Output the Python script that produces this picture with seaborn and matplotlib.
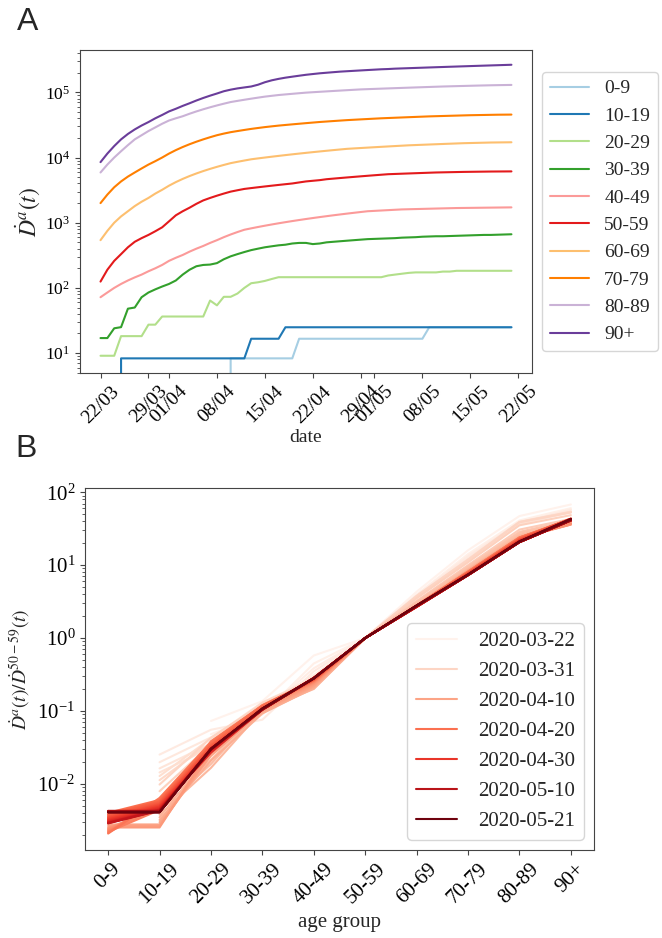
import matplotlib
matplotlib.use("Agg")
import matplotlib.pyplot as plt
import matplotlib.dates as mdates
from matplotlib.lines import Line2D
import numpy as np
import pandas as pd
import seaborn as sns

# daily estimates, 22/03 .. 21/05
date_start, date_end = "2020-03-22", "2020-05-21"
age_groups = ["0-9", "10-19", "20-29", "30-39", "40-49",
              "50-59", "60-69", "70-79", "80-89", "90+"]

d_0_9 = [0, 0, 0, 0, 0, 0, 0, 0, 0, 0,
         0, 0, 0, 0, 0, 0, 0, 0, 0, 8.3,
         8.3, 8.3, 8.3, 8.3, 8.3, 8.3, 8.3, 8.3, 8.3, 16.6,
         16.6, 16.6, 16.6, 16.6, 16.6, 16.6, 16.6, 16.6, 16.6, 16.6,
         16.6, 16.6, 16.6, 16.6, 16.6, 16.6, 16.6, 16.6, 24.9, 24.9,
         24.9, 24.9, 24.9, 24.9, 24.9, 24.9, 24.9, 24.9, 24.9, 24.9,
         24.9]
d_10_19 = [0, 0, 0, 8.3, 8.3, 8.3, 8.3, 8.3, 8.3, 8.3,
           8.3, 8.3, 8.3, 8.3, 8.3, 8.3, 8.3, 8.3, 8.3, 8.3,
           8.3, 8.3, 16.6, 16.6, 16.6, 16.6, 16.6, 24.9, 24.9, 24.9,
           24.9, 24.9, 24.9, 24.9, 24.9, 24.9, 24.9, 24.9, 24.9, 24.9,
           24.9, 24.9, 24.9, 24.9, 24.9, 24.9, 24.9, 24.9, 24.9, 24.9,
           24.9, 24.9, 24.9, 24.9, 24.9, 24.9, 24.9, 24.9, 24.9, 24.9,
           24.9]
d_20_29 = [9.1, 9.1, 9.1, 18.2, 18.2, 18.2, 18.2, 27.3, 27.3, 36.4,
           36.4, 36.4, 36.4, 36.4, 36.4, 36.4, 64, 54, 73, 73,
           82, 100, 118, 122, 128, 137, 146, 146, 146, 146,
           146, 146, 146, 146, 146, 146, 146, 146, 146, 146,
           146, 146, 155, 160, 165, 170, 173, 173, 173, 173,
           178, 178, 183, 183, 183, 183, 183, 183, 183, 183,
           183]
d_30_39 = [17, 17, 24, 25, 48, 50, 72, 85, 95, 105,
           115, 130, 160, 190, 215, 225, 228, 240, 275, 305,
           330, 355, 380, 400, 420, 435, 450, 460, 480, 490,
           490, 470, 480, 500, 510, 520, 530, 540, 550, 560,
           565, 570, 575, 580, 590, 595, 600, 610, 615, 620,
           620, 625, 630, 635, 640, 645, 650, 650, 655, 660,
           665]
d_40_49 = [72, 85, 100, 115, 130, 145, 160, 180, 200, 225,
           260, 290, 320, 360, 400, 440, 490, 540, 600, 660,
           720, 780, 820, 860, 900, 940, 980, 1020, 1060, 1100,
           1140, 1180, 1220, 1260, 1300, 1340, 1380, 1420, 1460, 1500,
           1520, 1540, 1560, 1580, 1600, 1610, 1620, 1630, 1640, 1650,
           1660, 1670, 1680, 1685, 1690, 1695, 1700, 1705, 1710, 1715,
           1720]
d_50_59 = [125, 190, 260, 330, 420, 510, 580, 650, 740, 850,
           1050, 1300, 1500, 1700, 1950, 2200, 2400, 2600, 2800, 3000,
           3150, 3300, 3400, 3500, 3600, 3700, 3800, 3900, 4000, 4150,
           4300, 4400, 4500, 4650, 4750, 4850, 4950, 5050, 5150, 5250,
           5350, 5450, 5550, 5600, 5650, 5700, 5750, 5800, 5850, 5900,
           5930, 5960, 5990, 6020, 6040, 6060, 6080, 6100, 6110, 6120,
           6130]
d_60_69 = [540, 750, 1000, 1250, 1500, 1800, 2100, 2400, 2800, 3200,
           3700, 4200, 4700, 5200, 5700, 6200, 6700, 7200, 7700, 8200,
           8600, 9000, 9400, 9700, 10000, 10300, 10600, 10900, 11200, 11500,
           11800, 12100, 12400, 12700, 13000, 13300, 13600, 13800, 14000, 14200,
           14400, 14600, 14800, 15000, 15200, 15400, 15550, 15700, 15850, 16000,
           16150, 16300, 16450, 16600, 16700, 16800, 16900, 17000, 17050, 17100,
           17150]
d_70_79 = [2000, 2700, 3500, 4300, 5100, 5900, 6800, 7800, 8800, 10000,
           11500, 13000, 14500, 16000, 17500, 19000, 20500, 22000, 23300, 24500,
           25500, 26500, 27500, 28400, 29300, 30100, 30900, 31600, 32300, 33000,
           33700, 34400, 35100, 35700, 36300, 36900, 37500, 38000, 38500, 39000,
           39500, 40000, 40400, 40800, 41200, 41600, 42000, 42400, 42800, 43100,
           43400, 43700, 44000, 44300, 44600, 44800, 45000, 45200, 45400, 45500,
           45600]
d_80_89 = [5900, 7800, 10000, 12500, 15500, 19000, 22000, 25500, 29000, 33000,
           37000, 40000, 43000, 47000, 51000, 55000, 59000, 63000, 67000, 71000,
           74000, 77000, 80000, 83000, 86000, 88500, 91000, 93000, 95000, 97000,
           99000, 100500, 102000, 103500, 105000, 106500, 108000, 109500, 111000, 112000,
           113000, 114000, 115000, 116000, 117000, 118000, 119000, 120000, 121000, 122000,
           123000, 123800, 124600, 125400, 126200, 127000, 127700, 128400, 129000, 129500,
           130000]
d_90 = [8500, 11500, 15000, 19000, 23000, 27000, 31000, 35000, 40000, 45000,
        51000, 56000, 62000, 68000, 75000, 82000, 89000, 96000, 104000, 110000,
        115000, 119000, 123000, 131000, 143000, 153000, 161000, 168000, 174000, 180000,
        186000, 191000, 196000, 200000, 204000, 208000, 211000, 214000, 217000, 220000,
        223000, 226000, 228000, 231000, 233000, 235000, 237000, 239000, 241000, 243000,
        245000, 247000, 249000, 251000, 253000, 255000, 257000, 259000, 261000, 263000,
        265000]

legend_dates = ["2020-03-22", "2020-03-31", "2020-04-10", "2020-04-20",
                "2020-04-30", "2020-05-10", "2020-05-21"]

series = dict(zip(age_groups, [d_0_9, d_10_19, d_20_29, d_30_39, d_40_49,
                               d_50_59, d_60_69, d_70_79, d_80_89, d_90]))
dates = pd.date_range(date_start, date_end, freq="D")

df_a = pd.DataFrame(
    [(dt, g, v) for g in age_groups for dt, v in zip(dates, series[g])],
    columns=["date", "group", "value"])

# panel B: ratio to the 50-59 group, zero counts are not shown on log axis
rows = []
for i, dt in enumerate(dates):
    ref = series["50-59"][i]
    for g in age_groups:
        v = series[g][i]
        rows.append((dt.strftime("%Y-%m-%d"), g, v / ref if v > 0 else np.nan))
df_b = pd.DataFrame(rows, columns=["date", "group", "ratio"])

sns.set_style("ticks")
plt.rcParams["font.family"] = ["Liberation Serif", "DejaVu Serif"]
plt.rcParams["mathtext.fontset"] = "stix"
plt.rcParams["axes.edgecolor"] = "#444444"
plt.rcParams["xtick.color"] = "#444444"
plt.rcParams["ytick.color"] = "#444444"
plt.rcParams["xtick.labelcolor"] = "black"
plt.rcParams["ytick.labelcolor"] = "black"

fig = plt.figure(figsize=(6.62, 9.38), dpi=100)
ax_a = fig.add_axes([0.1208, 0.6023, 0.6828, 0.3443])
ax_b = fig.add_axes([0.1284, 0.0938, 0.7689, 0.3859])

# --- A ---
sns.lineplot(data=df_a, x="date", y="value", hue="group", hue_order=age_groups,
             palette="Paired", estimator=None, lw=1.5, ax=ax_a)
ax_a.set_yscale("log", nonpositive="clip")
ax_a.xaxis.set_major_locator(mdates.DayLocator(bymonthday=[1, 8, 15, 22, 29]))
ax_a.xaxis.set_major_formatter(mdates.DateFormatter("%d/%m"))
ax_a.tick_params(axis="x", labelsize=14, rotation=45)
ax_a.tick_params(axis="y", labelsize=12.5)
ax_a.set_xlabel("date", fontsize=14, labelpad=2)
ax_a.set_ylabel(r"$\dot{D}^a(t)$", fontsize=17, labelpad=2)
sns.move_legend(ax_a, "upper left", bbox_to_anchor=(1.022, 0.932), borderaxespad=0,
                title=None, frameon=True, fontsize=14)

# --- B ---
pal = sns.color_palette("Reds", len(dates))
sns.lineplot(data=df_b, x="group", y="ratio", hue="date", palette=pal,
             estimator=None, sort=False, lw=1.5, legend=False, ax=ax_b)
ax_b.set_yscale("log")
ax_b.tick_params(axis="x", labelsize=15, rotation=45)
ax_b.tick_params(axis="y", labelsize=15)
ax_b.set_xlabel("age group", fontsize=15)
ax_b.set_ylabel(r"$\dot{D}^a(t)/\dot{D}^{50-59}(t)$", fontsize=14)

date_strs = [d.strftime("%Y-%m-%d") for d in dates]
handles = [Line2D([], [], color=pal[date_strs.index(d)], lw=1.5) for d in legend_dates]
ax_b.legend(handles, legend_dates, loc="lower right", fontsize=15, frameon=True,
            handletextpad=1.0)

fig.text(0.0257, 0.968, "A", fontsize=23, family="Liberation Sans")
fig.text(0.0234, 0.5128, "B", fontsize=23, family="Liberation Sans")

fig.savefig("out.png", dpi=100)
